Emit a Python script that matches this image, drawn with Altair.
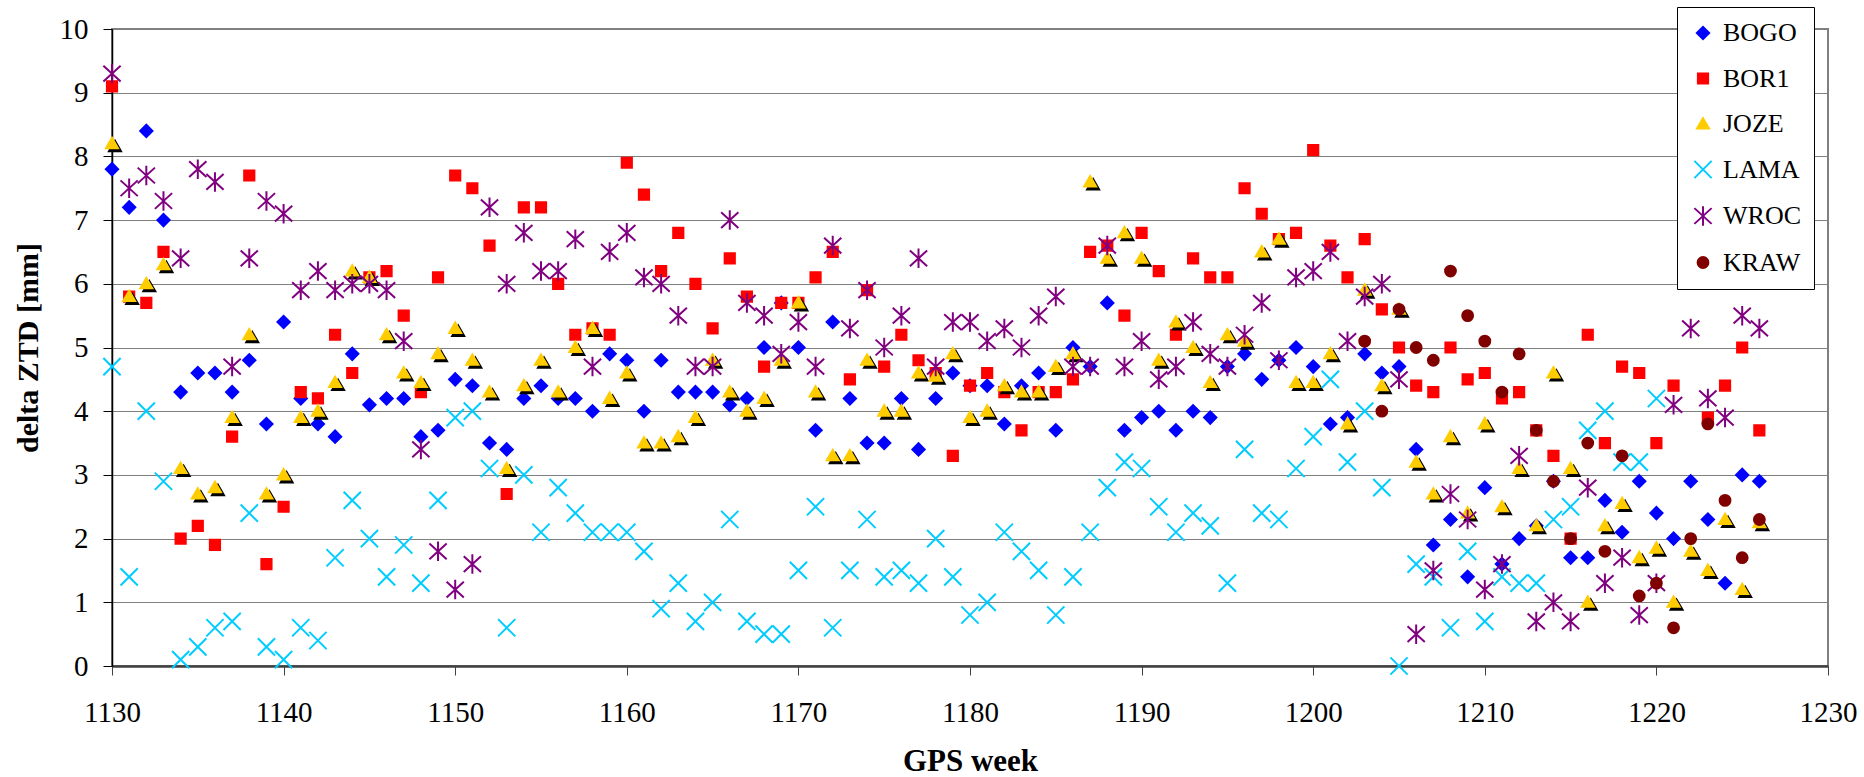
import altair as alt
import pandas as pd

weeks = list(range(1130, 1227))
stations = ["BOGO", "BOR1", "JOZE", "LAMA", "WROC", "KRAW"]

bogo = [7.8, 7.2, 8.4, 7.0, 4.3, 4.6, 4.6, 4.3, 4.8, 3.8,
        5.4, 4.2, 3.8, 3.6, 4.9, 4.1, 4.2, 4.2, 3.6, 3.7,
        4.5, 4.4, 3.5, 3.4, 4.2, 4.4, 4.2, 4.2, 4.0, 4.9,
        4.8, 4.0, 4.8, 4.3, 4.3, 4.3, 4.1, 4.2, 5.0, 5.7,
        5.0, 3.7, 5.4, 4.2, 3.5, 3.5, 4.2, 3.4, 4.2, 4.6,
        4.4, 4.4, 3.8, 4.4, 4.6, 3.7, 5.0, 4.7, 5.7, 3.7,
        3.9, 4.0, 3.7, 4.0, 3.9, 4.7, 4.9, 4.5, 4.8, 5.0,
        4.7, 3.8, 3.9, 4.9, 4.6, 4.7, 3.4, 1.9, 2.3, 1.4,
        2.8, 1.6, 2.0, 2.2, 2.9, 1.7, 1.7, 2.6, 2.1, 2.9,
        2.4, 2.0, 2.9, 2.3, 1.3, 3.0, 2.9]
bor1 = [9.1, 5.8, 5.7, 6.5, 2.0, 2.2, 1.9, 3.6, 7.7, 1.6,
        2.5, 4.3, 4.2, 5.2, 4.6, 6.1, 6.2, 5.5, 4.3, 6.1,
        7.7, 7.5, 6.6, 2.7, 7.2, 7.2, 6.0, 5.2, 5.3, 5.2,
        7.9, 7.4, 6.2, 6.8, 6.0, 5.3, 6.4, 5.8, 4.7, 5.7,
        5.7, 6.1, 6.5, 4.5, 5.9, 4.7, 5.2, 4.8, 4.6, 3.3,
        4.4, 4.6, 4.3, 3.7, 4.3, 4.3, 4.5, 6.5, 6.6, 5.5,
        6.8, 6.2, 5.2, 6.4, 6.1, 6.1, 7.5, 7.1, 6.7, 6.8,
        8.1, 6.6, 6.1, 6.7, 5.6, 5.0, 4.4, 4.3, 5.0, 4.5,
        4.6, 4.2, 4.3, 3.7, 3.3, 2.0, 5.2, 3.5, 4.7, 4.6,
        3.5, 4.4, None, 3.9, 4.4, 5.0, 3.7]
joze = [8.2, 5.8, 6.0, 6.3, 3.1, 2.7, 2.8, 3.9, 5.2, 2.7,
        3.0, 3.9, 4.0, 4.45, 6.2, 6.1, 5.2, 4.6, 4.45, 4.9,
        5.3, 4.8, 4.3, 3.1, 4.4, 4.8, 4.3, 5.0, 5.3, 4.2,
        4.6, 3.5, 3.5, 3.6, 3.9, 4.8, 4.3, 4.0, 4.2, 4.8,
        5.7, 4.3, 3.3, 3.3, 4.8, 4.0, 4.0, 4.6, 4.55, 4.9,
        3.9, 4.0, 4.4, 4.3, 4.3, 4.7, 4.9, 7.6, 6.4, 6.8,
        6.4, 4.8, 5.4, 5.0, 4.45, 5.2, 5.1, 6.5, 6.7, 4.45,
        4.45, 4.9, 3.8, 5.9, 4.4, 5.6, 3.2, 2.7, 3.6, 2.4,
        3.8, 2.5, 3.1, 2.2, 4.6, 3.1, 1.0, 2.2, 2.55, 1.7,
        1.85, 1.0, 1.8, 1.5, 2.3, 1.2, 2.25]
lama = [4.7, 1.4, 4.0, 2.9, 0.1, 0.3, 0.6, 0.7, 2.4, 0.3,
        0.1, 0.6, 0.4, 1.7, 2.6, 2.0, 1.4, 1.9, 1.3, 2.6,
        3.9, 4.0, 3.1, 0.6, 3.0, 2.1, 2.8, 2.4, 2.1, 2.1,
        2.1, 1.8, 0.9, 1.3, 0.7, 1.0, 2.3, 0.7, 0.5, 0.5,
        1.5, 2.5, 0.6, 1.5, 2.3, 1.4, 1.5, 1.3, 2.0, 1.4,
        0.8, 1.0, 2.1, 1.8, 1.5, 0.8, 1.4, 2.1, 2.8, 3.2,
        3.1, 2.5, 2.1, 2.4, 2.2, 1.3, 3.4, 2.4, 2.3, 3.1,
        3.6, 4.5, 3.2, 4.0, 2.8, 0.0, 1.6, 1.4, 0.6, 1.8,
        0.7, 1.4, 1.3, 1.3, 2.3, 2.5, 3.7, 4.0, 3.2, 3.2,
        4.2, None, None, None, None, None, None]
wroc = [9.3, 7.5, 7.7, 7.3, 6.4, 7.8, 7.6, 4.7, 6.4, 7.3,
        7.1, 5.9, 6.2, 5.9, 6.0, 6.0, 5.9, 5.1, 3.4, 1.8,
        1.2, 1.6, 7.2, 6.0, 6.8, 6.2, 6.2, 6.7, 4.7, 6.5,
        6.8, 6.1, 6.0, 5.5, 4.7, 4.7, 7.0, 5.7, 5.5, 4.9,
        5.4, 4.7, 6.6, 5.3, 5.9, 5.0, 5.5, 6.4, 4.7, 5.4,
        5.4, 5.1, 5.3, 5.0, 5.5, 5.8, 4.7, 4.7, 6.6, 4.7,
        5.1, 4.5, 4.7, 5.4, 4.9, 4.7, 5.2, 5.7, 4.8, 6.1,
        6.2, 6.5, 5.1, 5.8, 6.0, 4.5, 0.5, 1.5, 2.7, 2.3,
        1.2, 1.6, 3.3, 0.7, 1.0, 0.7, 2.8, 1.3, 1.7, 0.8,
        1.3, 4.1, 5.3, 4.2, 3.9, 5.5, 5.3]
kraw = [None] * 73 + [5.1, 4.0, 5.6, 5.0, 4.8, 6.2, 5.5,
                      5.1, 4.3, 4.9, 3.7, 2.9, 2.0, 3.5, 1.8, 3.3, 1.1,
                      1.3, 0.6, 2.0, 3.8, 2.6, 1.7, 2.3]

x_ticks = list(range(1130, 1231, 10))
y_ticks = list(range(0, 11))

series = {"BOGO": bogo, "BOR1": bor1, "JOZE": joze,
          "LAMA": lama, "WROC": wroc, "KRAW": kraw}
rows = []
for st in stations:
    for w, v in zip(weeks, series[st]):
        if v is not None:
            rows.append({"week": w, "value": v, "station": st})
df = pd.DataFrame(rows)

DIAMOND = "M-0.82,0L0,-0.82L0.82,0L0,0.82Z"
SQUARE = "M-0.68,-0.68L0.68,-0.68L0.68,0.68L-0.68,0.68Z"
TRIANGLE = "M0,-0.78L0.8,0.6L-0.8,0.6Z"
XMARK = "M-1.15,-1.15L1.15,1.15M-1.15,1.15L1.15,-1.15"
STAR = "M-1.15,-1.05L1.15,1.05M-1.15,1.05L1.15,-1.05M0,-1.3L0,1.3"
CIRCLE = "M-0.72,0A0.72,0.72,0,1,0,0.72,0A0.72,0.72,0,1,0,-0.72,0Z"

shapes = [DIAMOND, SQUARE, TRIANGLE, XMARK, STAR, CIRCLE]
fills = ["#0000FF", "#FF0000", "#FFCC00", "transparent", "transparent", "#800000"]
strokes = ["#0000FF", "#FF0000", "#FFCC00", "#00CCFF", "#800080", "#800000"]

FONT = "'Liberation Serif', 'Times New Roman', 'DejaVu Serif', serif"

xscale = alt.Scale(domain=[1130, 1230], nice=False, zero=False)
yscale = alt.Scale(domain=[0, 10], nice=False)

xaxis = alt.Axis(values=x_ticks, format="d", title="GPS week",
                 titleFont=FONT, titleFontSize=31, titleFontWeight="bold",
                 titleColor="black", titleY=95, titleBaseline="middle",
                 labelFont=FONT, labelFontSize=29, labelColor="black",
                 labelPadding=23, labelFlush=False, labelOverlap=False,
                 tickSize=9, tickColor="#404040", tickWidth=1,
                 domainColor="#404040", domainWidth=2.5, grid=False)
yaxis = alt.Axis(values=y_ticks, format="d", title="delta ZTD [mm]",
                 titleFont=FONT, titleFontSize=30, titleFontWeight="bold",
                 titleColor="black", titleX=-84, titleY=318.5, titleAngle=270,
                 titleBaseline="middle", titleAlign="center",
                 labelFont=FONT, labelFontSize=29, labelColor="black",
                 labelPadding=15, labelFlush=False, labelOverlap=False,
                 tickSize=9, tickColor="black", tickWidth=1,
                 domainColor="black", domainWidth=1.5,
                 grid=True, gridColor="#808080", gridWidth=1)

legend = alt.Legend(title=None, orient="none", legendX=1565, legendY=-22,
                    padding=13, strokeColor="black", fillColor="white",
                    cornerRadius=0, labelFont=FONT, labelFontSize=26,
                    labelColor="black", labelOffset=7, rowPadding=19.5,
                    symbolSize=225, symbolStrokeWidth=2)

base = alt.Chart(df).encode(
    x=alt.X("week:Q", scale=xscale, axis=xaxis),
    y=alt.Y("value:Q", scale=yscale, axis=yaxis),
)

enc = dict(
    shape=alt.Shape("station:N", scale=alt.Scale(domain=stations, range=shapes), legend=legend),
    fill=alt.Fill("station:N", scale=alt.Scale(domain=stations, range=fills), legend=legend),
    stroke=alt.Stroke("station:N", scale=alt.Scale(domain=stations, range=strokes), legend=legend),
)

layer_a = base.transform_filter(
    alt.FieldOneOfPredicate(field="station", oneOf=["BOGO", "BOR1"])
).mark_point(size=225, strokeWidth=2, opacity=1).encode(**enc)

shadow = base.transform_filter(
    alt.FieldEqualPredicate(field="station", equal="JOZE")
).mark_point(shape=TRIANGLE, size=225, fill="black", stroke="black",
             strokeWidth=2, opacity=1, xOffset=3, yOffset=3)

layer_c = base.transform_filter(
    alt.FieldOneOfPredicate(field="station", oneOf=["JOZE", "LAMA", "WROC", "KRAW"])
).mark_point(size=225, strokeWidth=2, opacity=1).encode(**enc)

chart = alt.layer(layer_a, shadow, layer_c).properties(
    width=1716, height=637,
    padding={"left": 112, "top": 29, "right": 36, "bottom": 111},
    autosize=alt.AutoSizeParams(type="none"),
    background="white",
).configure_view(stroke="#808080", strokeWidth=2)

chart.save("out.html", embed_options={"renderer": "svg", "actions": False})
